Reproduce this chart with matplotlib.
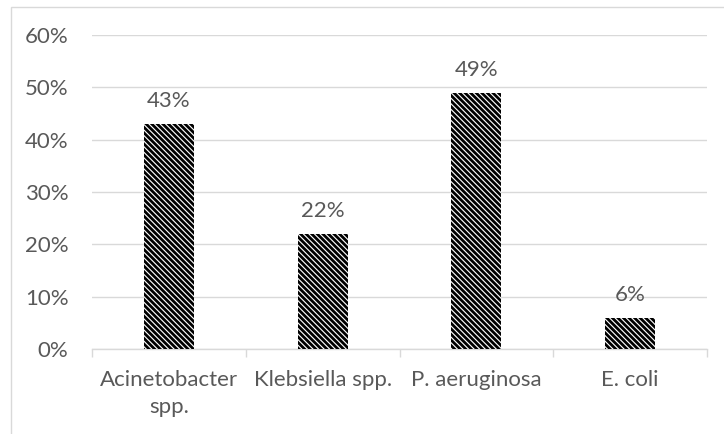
import matplotlib
matplotlib.use("Agg")
import matplotlib.pyplot as plt
from matplotlib.patches import Rectangle
from matplotlib.ticker import FixedLocator, PercentFormatter

categories = ["Acinetobacter\nspp.", "Klebsiella spp.", "P. aeruginosa", "E. coli"]
values = [43, 22, 49, 6]
yticks = [0, 10, 20, 30, 40, 50, 60]

plt.rcParams['font.family'] = ['Lato', 'DejaVu Sans']
plt.rcParams['hatch.linewidth'] = 2.0
text_color = '#595959'
grid_color = '#d9d9d9'
fs = 16

fig = plt.figure(figsize=(7.24, 4.34), dpi=100)
fig.patches.append(Rectangle((11/724, -0.1), 1.2, 1 - 7/434 + 0.1, transform=fig.transFigure,
                             fill=False, edgecolor=grid_color, linewidth=1.0))
ax = fig.add_axes([92/724, 1 - 349/434, (707 - 92)/724, (349 - 35)/434])

x = list(range(len(categories)))
ax.bar(x, values, width=0.325, color='white', edgecolor='black', linewidth=0,
       hatch='\\' * 6, zorder=3)
for xi, v in zip(x, values):
    ax.annotate(f"{v}%", (xi, v), xytext=(0, 12), textcoords='offset points',
                ha='center', va='baseline', fontsize=fs, color=text_color)

ax.set_xlim(-0.5, len(categories) - 0.5)
ax.set_ylim(0, 60)
ax.set_yticks(yticks)
ax.yaxis.set_major_formatter(PercentFormatter(decimals=0))
ax.set_xticks(x)
ax.set_xticklabels(categories, linespacing=1.45)
ax.xaxis.set_minor_locator(FixedLocator([i - 0.5 for i in range(len(categories) + 1)]))
ax.tick_params(axis='x', which='major', length=0, pad=15, labelsize=fs, labelcolor=text_color)
ax.tick_params(axis='x', which='minor', length=6, color=grid_color, width=1)
ax.tick_params(axis='y', length=0, pad=17, labelsize=fs, labelcolor=text_color)
ax.grid(axis='y', color=grid_color, linewidth=1, zorder=0)
for s in ['top', 'right', 'left']:
    ax.spines[s].set_visible(False)
ax.spines['bottom'].set_color(grid_color)
ax.spines['bottom'].set_linewidth(1)

fig.savefig("out.png", dpi=100)
